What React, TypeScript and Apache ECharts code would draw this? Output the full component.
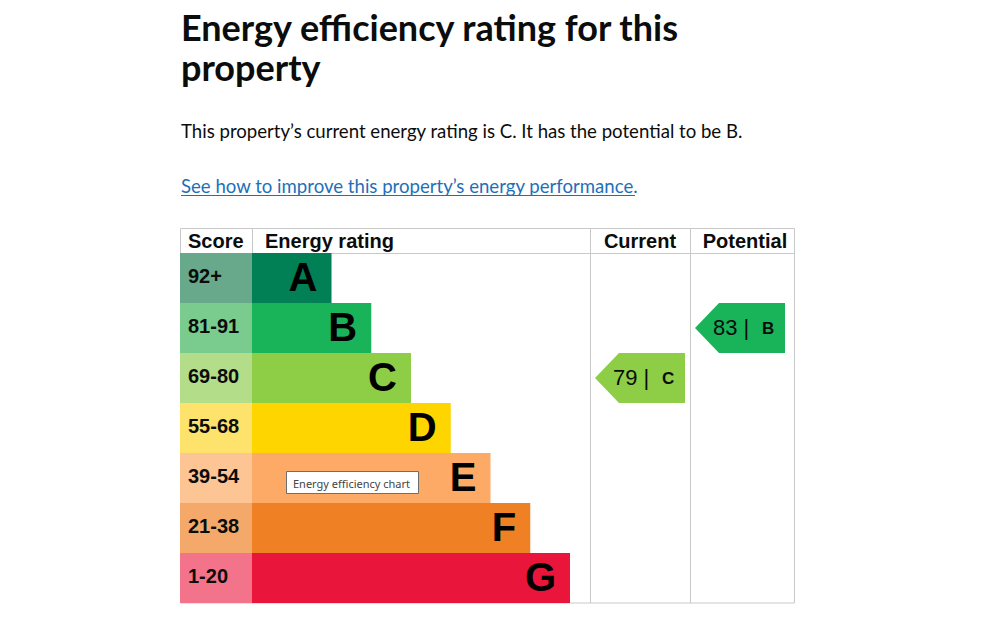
import React, { useEffect, useRef } from 'react';
import * as echarts from 'echarts';

const bands = ['A', 'B', 'C', 'D', 'E', 'F', 'G'];
const scoreRanges = ['92+', '81-91', '69-80', '55-68', '39-54', '21-38', '1-20'];
const barLengths = [2, 3, 4, 5, 6, 7, 8];
const bandColors = ['#008054', '#19b459', '#8dce46', '#ffd500', '#fcaa65', '#ef8023', '#e9153b'];
const scoreColors = ['#67a98a', '#79cc8e', '#b4dd8a', '#fde26c', '#fec594', '#f4a96a', '#f2738a'];
const columns = ['Current', 'Potential'];
const ratingScores = [79, 83];
const ratingBands = ['C', 'B'];
const headers = ['Score', 'Energy rating', 'Current', 'Potential'];
const titleLines = ['Energy efficiency rating for this', 'property'];
const summaryText = 'This property\u2019s current energy rating is C. It has the potential to be B.';
const linkText = 'See how to improve this property\u2019s energy performance.';
const tooltipText = 'Energy efficiency chart';

const ARIAL = '"Liberation Sans", Arial, sans-serif';
const GDS = 'Lato, "Noto Sans", sans-serif';

function txt(text: string, x: number, y: number, font: string, fill: string, align = 'left', z = 10) {
  return {
    type: 'text',
    z,
    style: {
      text, x, y, font, fill,
      align, verticalAlign: 'middle',
      textAlign: align, textVerticalAlign: 'middle',
    },
  };
}

export default function App() {
  const ref = useRef<HTMLDivElement>(null);
  useEffect(() => {
    if (!ref.current) return;
    const chart = echarts.init(ref.current, undefined, { renderer: 'svg' });
    const lineColor = '#c9c9c9';
    const headerX = [188, 265, 640, 745];
    const headerAlign = ['left', 'left', 'center', 'center'];
    const option: any = {
      animation: false,
      backgroundColor: '#ffffff',
      grid: [
        { left: 180, top: 253, width: 72, height: 350 },
        { left: 252, top: 253, width: 318, height: 350 },
        { left: 590, top: 253, width: 200, height: 350 },
      ],
      xAxis: [
        { type: 'value', gridIndex: 0, min: 0, max: 1, show: false },
        { type: 'value', gridIndex: 1, min: 0, max: 8, show: false },
        { type: 'category', gridIndex: 2, data: columns, show: false },
      ],
      yAxis: [0, 1, 2].map((g) => ({
        type: 'category', gridIndex: g, data: bands, inverse: true, show: false,
      })),
      series: [
        {
          type: 'bar', xAxisIndex: 0, yAxisIndex: 0,
          barWidth: '100%', barCategoryGap: 0,
          data: scoreRanges.map((_, i) => ({ value: 1, itemStyle: { color: scoreColors[i] } })),
          label: {
            show: true, position: 'insideLeft', distance: 8, offset: [0, -2],
            formatter: (p: any) => scoreRanges[p.dataIndex],
            fontFamily: ARIAL, fontSize: 20, fontWeight: 'bold', color: '#0b0c0c',
          },
          silent: true,
        },
        {
          type: 'bar', xAxisIndex: 1, yAxisIndex: 1,
          barWidth: '100%', barCategoryGap: 0,
          data: barLengths.map((v, i) => ({ value: v, itemStyle: { color: bandColors[i] } })),
          label: {
            show: true, position: 'insideRight', distance: 14, offset: [0, -1],
            formatter: (p: any) => bands[p.dataIndex],
            fontFamily: ARIAL, fontSize: 40, fontWeight: 'bold', color: '#000000',
          },
          silent: true,
        },
        {
          type: 'custom', xAxisIndex: 2, yAxisIndex: 2,
          data: columns.map((_, i) => [i, ratingBands[i], ratingScores[i]]),
          renderItem: (params: any, api: any) => {
            const i = params.dataIndex;
            const [cx, cy] = api.coord([api.value(0), api.value(1)]);
            const h = api.size([1, 1])[1];
            const left = cx - 45;
            const right = cx + 45;
            const tip = 24;
            const color = bandColors[bands.indexOf(ratingBands[i])];
            return {
              type: 'group',
              children: [
                {
                  type: 'polygon',
                  shape: {
                    points: [
                      [left, cy], [left + tip, cy - h / 2], [right, cy - h / 2],
                      [right, cy + h / 2], [left + tip, cy + h / 2],
                    ],
                  },
                  style: { fill: color },
                },
                {
                  type: 'text',
                  style: {
                    text: `${api.value(2)} |`, x: cx - 27, y: cy - 1,
                    font: `22px ${ARIAL}`, fill: '#0b0c0c',
                    align: 'left', verticalAlign: 'middle',
                    textAlign: 'left', textVerticalAlign: 'middle',
                  },
                },
                {
                  type: 'text',
                  style: {
                    text: ratingBands[i], x: cx + 22, y: cy,
                    font: `bold 17px ${ARIAL}`, fill: '#0b0c0c',
                    align: 'left', verticalAlign: 'middle',
                    textAlign: 'left', textVerticalAlign: 'middle',
                  },
                },
              ],
            };
          },
          silent: true,
        },
      ],
      graphic: [
        txt(titleLines[0], 181, 27, `bold 36px ${GDS}`, '#0b0c0c'),
        txt(titleLines[1], 181, 67, `bold 36px ${GDS}`, '#0b0c0c'),
        txt(summaryText, 181, 130.5, `18.6px ${GDS}`, '#0b0c0c'),
        txt(linkText, 181, 185.5, `18.6px ${GDS}`, '#1d70b8'),
        { type: 'line', z: 10, shape: { x1: 181, y1: 195.5, x2: 635, y2: 195.5 }, style: { stroke: '#1d70b8', lineWidth: 1 } },
        { type: 'rect', z: 0, shape: { x: 180.5, y: 228.5, width: 614, height: 374.5 }, style: { fill: 'none', stroke: lineColor, lineWidth: 1 } },
        { type: 'line', z: 0, shape: { x1: 180, y1: 253.5, x2: 795, y2: 253.5 }, style: { stroke: lineColor, lineWidth: 1 } },
        { type: 'line', z: 0, shape: { x1: 252.5, y1: 228, x2: 252.5, y2: 253 }, style: { stroke: lineColor, lineWidth: 1 } },
        { type: 'line', z: 0, shape: { x1: 590.5, y1: 228, x2: 590.5, y2: 603 }, style: { stroke: lineColor, lineWidth: 1 } },
        { type: 'line', z: 0, shape: { x1: 690.5, y1: 228, x2: 690.5, y2: 603 }, style: { stroke: lineColor, lineWidth: 1 } },
        ...headers.map((h, i) => txt(h, headerX[i], 241, `bold 20px ${ARIAL}`, '#0b0c0c', headerAlign[i])),
        { type: 'rect', z: 20, shape: { x: 286.5, y: 471.5, width: 132, height: 22 }, style: { fill: '#ffffff', stroke: '#6e6e6e', lineWidth: 1 } },
        txt(tooltipText, 293, 483, `11px "Noto Sans", sans-serif`, '#444444', 'left', 21),
      ],
    };
    chart.setOption(option);
    return () => chart.dispose();
  }, []);
  return (
    <div
      ref={ref}
      style={{ position: 'fixed', left: 0, top: 0, width: 988, height: 619 }}
    />
  );
}
